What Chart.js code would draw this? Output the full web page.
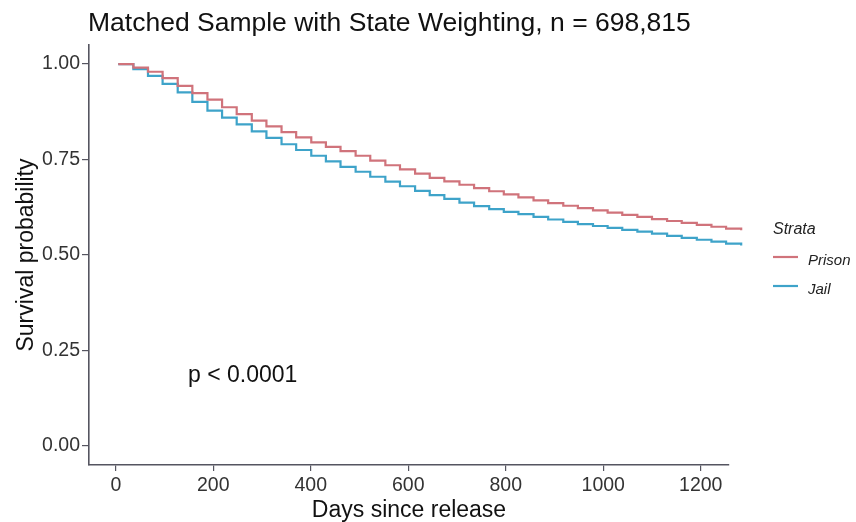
<!DOCTYPE html>
<html>
<head>
<meta charset="utf-8">
<script src="https://cdn.jsdelivr.net/npm/chart.js@4/dist/chart.umd.min.js"></script>
<style>
  html, body { margin: 0; padding: 0; background: #ffffff; }
  #wrap { width: 856px; height: 522px; position: relative; }
</style>
</head>
<body>
<div id="wrap"><canvas id="c" width="856" height="522"></canvas></div>
<script>
// ---- data ----
const chartTitle = "Matched Sample with State Weighting, n = 698,815";
const xTitle = "Days since release";
const yTitle = "Survival probability";
const pText = "p < 0.0001";
const legendTitle = "Strata";
const seriesNames = ["Prison", "Jail"];

const days = [5, 36, 66, 96, 127, 157, 188, 218, 248, 279, 309, 340, 370, 401, 431, 461, 492, 522, 553, 583, 614, 644, 674, 705, 735, 766, 796, 826, 857, 887, 918, 948, 979, 1009, 1039, 1070, 1100, 1131, 1161, 1192, 1222, 1252, 1283, 1287];
const prison = [1.000, 0.991, 0.980, 0.963, 0.943, 0.924, 0.907, 0.887, 0.869, 0.852, 0.837, 0.822, 0.808, 0.795, 0.783, 0.772, 0.760, 0.747, 0.735, 0.724, 0.713, 0.702, 0.693, 0.684, 0.675, 0.667, 0.659, 0.651, 0.643, 0.636, 0.629, 0.623, 0.617, 0.611, 0.605, 0.600, 0.594, 0.589, 0.584, 0.579, 0.574, 0.569, 0.565, 0.565];
const jail = [1.000, 0.987, 0.969, 0.948, 0.926, 0.901, 0.878, 0.860, 0.842, 0.824, 0.807, 0.790, 0.775, 0.760, 0.745, 0.731, 0.718, 0.705, 0.692, 0.680, 0.668, 0.657, 0.647, 0.637, 0.628, 0.620, 0.613, 0.607, 0.600, 0.593, 0.587, 0.581, 0.576, 0.571, 0.566, 0.561, 0.556, 0.550, 0.545, 0.540, 0.535, 0.530, 0.525, 0.525];

const xTicks = [0, 200, 400, 600, 800, 1000, 1200];
const yTicks = [0, 0.25, 0.5, 0.75, 1.0];
const pPos = { x: 148, y: 0.183 };

// ---- styles ----
const colors = ["#d0737b", "#3ea3c9"];
const axisColor = "#555560";
const textColor = "#333333";
const FONT = "'Liberation Sans', Arial, Helvetica, sans-serif";

const toPoints = (xs, ys) => xs.map((x, i) => ({ x: x, y: ys[i] }));

const overlay = {
  id: 'overlay',
  afterDraw(chart) {
    const ctx = chart.ctx;
    const xs = chart.scales.x, ys = chart.scales.y;
    ctx.save();
    // title
    ctx.fillStyle = "#111111";
    ctx.font = "26.5px " + FONT;
    ctx.textBaseline = "middle";
    ctx.textAlign = "left";
    ctx.fillText(chartTitle, 88, 24);
    // p value
    ctx.font = "23px " + FONT;
    ctx.fillStyle = "#111111";
    ctx.fillText(pText, xs.getPixelForValue(pPos.x), ys.getPixelForValue(pPos.y));
    // legend
    ctx.font = "italic 16px " + FONT;
    ctx.fillStyle = "#222222";
    ctx.fillText(legendTitle, 773, 230);
    const rows = [257, 286];
    ctx.font = "italic 15px " + FONT;
    seriesNames.forEach((name, i) => {
      ctx.strokeStyle = colors[i];
      ctx.lineWidth = 2.2;
      ctx.beginPath();
      ctx.moveTo(773, rows[i]);
      ctx.lineTo(798, rows[i]);
      ctx.stroke();
      ctx.fillStyle = "#222222";
      ctx.fillText(name, 808, rows[i] + 4);
    });
    ctx.restore();
  }
};

new Chart(document.getElementById('c'), {
  type: 'line',
  data: {
    datasets: [
      { label: seriesNames[0], data: toPoints(days, prison), borderColor: colors[0], backgroundColor: colors[0],
        borderWidth: 2.2, pointRadius: 0, stepped: 'before', tension: 0, clip: false },
      { label: seriesNames[1], data: toPoints(days, jail), borderColor: colors[1], backgroundColor: colors[1],
        borderWidth: 2.2, pointRadius: 0, stepped: 'before', tension: 0, clip: false }
    ]
  },
  options: {
    responsive: false,
    animation: false,
    devicePixelRatio: 1,
    layout: { padding: { top: 45, right: 127, left: 0, bottom: 0 } },
    plugins: { legend: { display: false }, tooltip: { enabled: false }, title: { display: false } },
    scales: {
      x: {
        type: 'linear', min: -55, max: 1258,
        afterBuildTicks: (s) => { s.ticks = xTicks.map(v => ({ value: v })); },
        afterFit: (s) => { s.height = 57; },
        grid: { display: true, drawOnChartArea: false, drawTicks: true, tickLength: 6, color: axisColor, lineWidth: 1.2 },
        border: { display: true, color: axisColor, width: 1.6 },
        ticks: { color: textColor, font: { family: FONT, size: 19.5 }, padding: 3, maxRotation: 0, callback: (v) => String(v) },
        title: { display: true, text: xTitle, color: "#111111", font: { family: FONT, size: 23, lineHeight: 1.0 }, padding: { top: 0, bottom: 0 } }
      },
      y: {
        type: 'linear', min: -0.05, max: 1.05,
        afterBuildTicks: (s) => { s.ticks = yTicks.map(v => ({ value: v })); },
        afterFit: (s) => { s.width = 89; },
        grid: { display: true, drawOnChartArea: false, drawTicks: true, tickLength: 7, color: axisColor, lineWidth: 1.2 },
        border: { display: true, color: axisColor, width: 1.6 },
        ticks: { color: textColor, font: { family: FONT, size: 19.5 }, padding: 2, callback: (v) => Number(v).toFixed(2) },
        title: { display: true, text: yTitle, color: "#111111", font: { family: FONT, size: 23 }, padding: { top: 13, bottom: 0 } }
      }
    }
  },
  plugins: [overlay]
});
</script>
</body>
</html>
